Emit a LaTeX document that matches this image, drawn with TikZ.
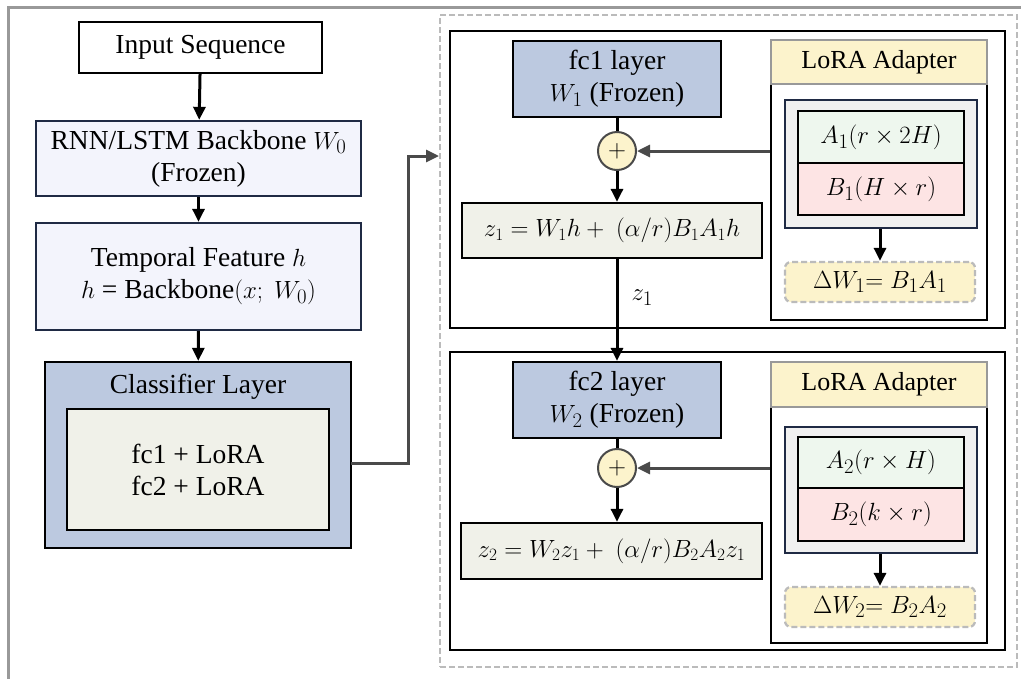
\documentclass[tikz,border=0pt]{standalone}
\usepackage{fontspec}
\setmainfont{Liberation Serif}
\usetikzlibrary{arrows.meta}
\definecolor{navy}{HTML}{1F2A44}
\definecolor{lav}{HTML}{F3F4FC}
\definecolor{steel}{HTML}{BCC9E0}
\definecolor{cream}{HTML}{F0F1E9}
\definecolor{yel}{HTML}{FCF3CC}
\definecolor{mint}{HTML}{EEF7EE}
\definecolor{pinkish}{HTML}{FDE4E4}
\definecolor{lgray}{HTML}{F0F0F0}
\definecolor{dgray}{HTML}{4A4A4A}
\definecolor{frame}{HTML}{999999}
\definecolor{dashc}{HTML}{BBBBBB}
\begin{document}
\begin{tikzpicture}[x=1pt,y=-1pt,
  font=\fontsize{27.5}{32}\selectfont,
  box/.style={draw, line width=2.3pt, inner sep=0pt, align=center},
  conn/.style={line width=3pt, -{Triangle[length=13pt,width=12pt]}},
  gconn/.style={line width=3pt, draw=dgray, -{Triangle[length=13pt,width=12pt]}, color=dgray},
  plain/.style={line width=3pt},
  sumnode/.style={circle, draw=dgray, fill=yel, line width=2pt, minimum size=38pt, inner sep=0pt, font=\fontsize{26}{26}\selectfont}
]
\useasboundingbox (0,0) rectangle (1021,678);
% outer frame
\draw[frame, line width=3pt] (8,7) rectangle (1060,720);

% left column
\node[box, minimum width=243pt, minimum height=51pt, fill=white] (inp) at (200.5,47.5) {Input Sequence};
\node[box, draw=navy, fill=lav, minimum width=325pt, minimum height=75pt] (rnn) at (198.5,158.5) {RNN/LSTM Backbone $W_0$\\(Frozen)};
\node[box, draw=navy, fill=lav, minimum width=325pt, minimum height=107pt] (temp) at (198.5,276.5) {Temporal Feature $h$\\$h$ = Backbone$(x;\ W_0)$};
\node[box, fill=steel, minimum width=306pt, minimum height=186pt] (cls) at (198,455) {};
\node (clst) at (198,387) {Classifier Layer};
\node[box, fill=cream, minimum width=262pt, minimum height=121pt] (clsin) at (198,469.5) {fc1 + LoRA\\fc2 + LoRA};

\draw[conn] (inp) -- (rnn);
\draw[conn] (rnn) -- (temp);
\draw[conn] (temp) -- (cls);

% right dashed container
\node[draw=dashc, dashed, dash pattern=on 6pt off 3pt, line width=2pt, minimum width=577pt, minimum height=652pt, inner sep=0pt] (dash) at (728.5,341) {};
\coordinate (c1) at (351,463);
\coordinate (c2) at (408,156);
\draw[gconn] (c1) -| (c2) -- (dash.west |- c2);

% blocks
\node[box, minimum width=555pt, minimum height=297pt] (blk1) at (727.5,179.5) {};
\node[box, minimum width=555pt, minimum height=298pt] (blk2) at (727.5,501) {};

% block 1
\node[box, fill=steel, minimum width=208pt, minimum height=76pt] (fc1) at (617,79) {fc1 layer\\$W_1$ (Frozen)};
\node[sumnode] (p1) at (617,151) {$+$};
\node[box, fill=cream, minimum width=300pt, minimum height=55pt, font=\fontsize{25}{29}\selectfont] (z1) at (612,230.5) {$z_1 = W_1 h +\ (\alpha/r) B_1 A_1 h$};
\node[anchor=west] (z1l) at (628,298) {$z_1$};

\node[box, minimum width=216pt, minimum height=280pt] (ad1) at (879,180) {};
\node[box, draw=frame, fill=yel, minimum width=216pt, minimum height=44pt, font=\fontsize{26}{30}\selectfont] (h1) at (879,62) {LoRA Adapter};
\node[box, draw=navy, fill=lgray, minimum width=192pt, minimum height=128pt] (in1) at (881,164) {};
\node[box, fill=mint, minimum width=166pt, minimum height=52pt] (a1) at (881,137) {$A_1(r\times 2H)$};
\node[box, fill=pinkish, minimum width=166pt, minimum height=52pt] (b1) at (881,189) {$B_1(H\times r)$};
\node[box, draw=dashc, dashed, dash pattern=on 6pt off 3pt, fill=yel, rounded corners=6pt, minimum width=190pt, minimum height=40pt] (dw1) at (880,282) {$\Delta W_1{=}\ B_1 A_1$};

\draw[plain] (fc1) -- (p1);
\draw[conn] (p1) -- (z1.north -| p1);
\draw[conn] (in1.south -| dw1) -- (dw1);
\draw[gconn] (ad1.west |- p1) -- (p1);

% block 2
\node[box, fill=steel, minimum width=208pt, minimum height=76pt] (fc2) at (617,400) {fc2 layer\\$W_2$ (Frozen)};
\node[sumnode] (p2) at (617,468) {$+$};
\node[box, fill=cream, minimum width=301pt, minimum height=56pt, font=\fontsize{25}{29}\selectfont] (z2) at (611.5,551) {$z_2 = W_2 z_1 +\ (\alpha/r) B_2 A_2 z_1$};

\node[box, minimum width=216pt, minimum height=281pt] (ad2) at (879,502.5) {};
\node[box, draw=frame, fill=yel, minimum width=216pt, minimum height=45pt, font=\fontsize{26}{30}\selectfont] (h2) at (879,384.5) {LoRA Adapter};
\node[box, draw=navy, fill=lgray, minimum width=192pt, minimum height=126pt] (in2) at (881,490) {};
\node[box, fill=mint, minimum width=166pt, minimum height=51pt] (a2) at (881,462.5) {$A_2(r\times H)$};
\node[box, fill=pinkish, minimum width=166pt, minimum height=53pt] (b2) at (881,514.5) {$B_2(k\times r)$};
\node[box, draw=dashc, dashed, dash pattern=on 6pt off 3pt, fill=yel, rounded corners=6pt, minimum width=190pt, minimum height=40pt] (dw2) at (880,607) {$\Delta W_2{=}\ B_2 A_2$};

\draw[conn] (z1.south -| p1) -- (fc2.north);
\draw[plain] (fc2) -- (p2);
\draw[conn] (p2) -- (z2.north -| p2);
\draw[conn] (in2.south -| dw2) -- (dw2);
\draw[gconn] (ad2.west |- p2) -- (p2);
\end{tikzpicture}
\end{document}
